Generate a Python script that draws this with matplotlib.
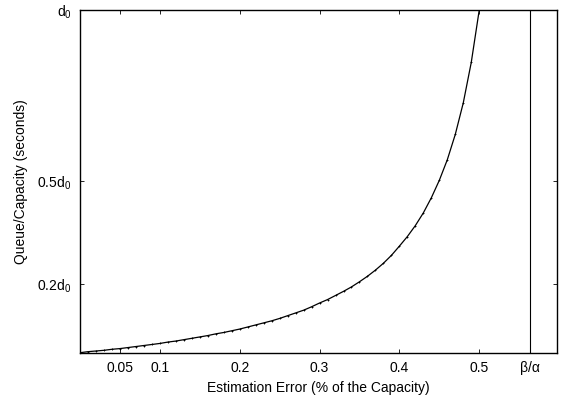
import matplotlib
matplotlib.use("Agg")
import matplotlib.pyplot as plt

plt.rcParams['font.family'] = ['Liberation Sans', 'DejaVu Sans']
plt.rcParams['mathtext.default'] = 'regular'

# Estimation error (fraction of capacity)
err = [0.00, 0.01, 0.02, 0.03, 0.04, 0.05, 0.06, 0.07, 0.08, 0.09,
       0.10, 0.11, 0.12, 0.13, 0.14, 0.15, 0.16, 0.17, 0.18, 0.19,
       0.20, 0.21, 0.22, 0.23, 0.24, 0.25, 0.26, 0.27, 0.28, 0.29,
       0.30, 0.31, 0.32, 0.33, 0.34, 0.35, 0.36, 0.37, 0.38, 0.39,
       0.40, 0.41, 0.42, 0.43, 0.44, 0.45, 0.46, 0.47, 0.48, 0.49, 0.50]
# Queue/Capacity in units of d0
queue = [0.000, 0.003, 0.005, 0.007, 0.010, 0.012, 0.015, 0.018, 0.021, 0.024,
         0.027, 0.031, 0.034, 0.038, 0.042, 0.046, 0.050, 0.055, 0.059, 0.064,
         0.069, 0.075, 0.081, 0.087, 0.093, 0.100, 0.108, 0.116, 0.124, 0.134,
         0.145, 0.155, 0.167, 0.179, 0.192, 0.207, 0.223, 0.241, 0.261, 0.284,
         0.311, 0.339, 0.371, 0.408, 0.452, 0.503, 0.563, 0.637, 0.729, 0.847, 1.000]

beta_alpha = 0.564
xticks = [0.05, 0.1, 0.2, 0.3, 0.4, 0.5, beta_alpha]
xticklabels = ['0.05', '0.1', '0.2', '0.3', '0.4', '0.5', 'β/α']
yticks = [0.2, 0.5, 1.0]
yticklabels = ['0.2d$_0$', '0.5d$_0$', 'd$_0$']

fig = plt.figure(figsize=(5.65, 4.03), dpi=100)
ax = fig.add_axes([0.1416, 0.1248, 0.8437, 0.8504])

ax.plot(err, queue, color='black', linewidth=0.9, marker='+', markersize=1.6,
        markeredgewidth=0.6)
ax.axvline(beta_alpha, color='black', linewidth=0.8)

ax.set_xlim(0.0, 0.597)
ax.set_ylim(0.0, 1.0)
ax.set_xticks(xticks)
ax.set_xticklabels(xticklabels)
ax.set_yticks(yticks)
ax.set_yticklabels(yticklabels)
ax.tick_params(direction='in', length=3, width=0.6, top=True, right=True,
               labelsize=10, pad=6)
for s in ax.spines.values():
    s.set_linewidth(1.0)

ax.set_xlabel('Estimation Error (% of the Capacity)', fontsize=10, labelpad=4)
ax.set_ylabel('Queue/Capacity (seconds)', fontsize=10, labelpad=7)

fig.savefig('out.png', dpi=100)
